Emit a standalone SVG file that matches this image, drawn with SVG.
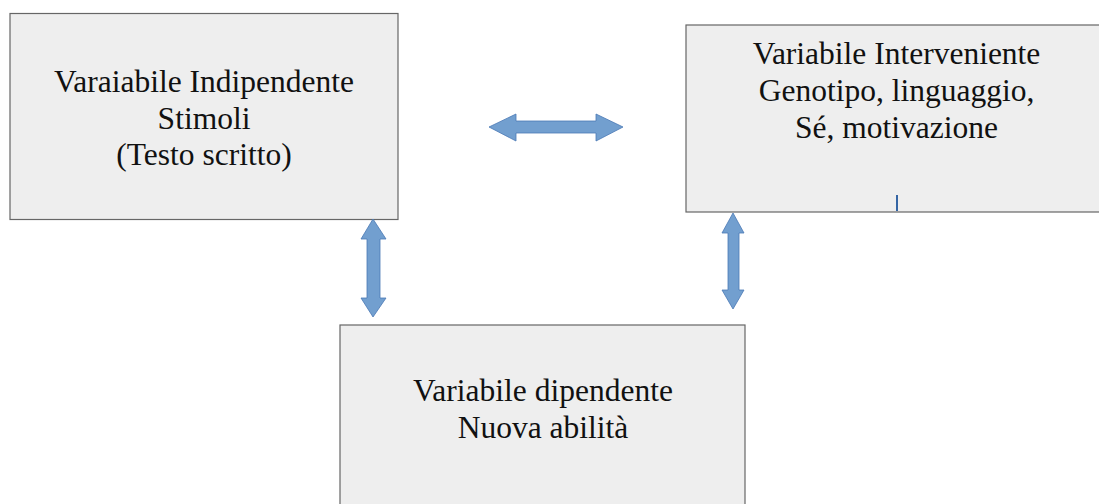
<svg xmlns="http://www.w3.org/2000/svg" width="1099" height="504" viewBox="0 0 1099 504">
<style>
.box{fill:#eeeeee;stroke:#666666;stroke-width:1.2}
.t{font-family:"Liberation Serif","Times New Roman",serif;font-size:31.5px;fill:#111111;text-anchor:middle}
.arr{fill:#729fcf;stroke:#4a78b5;stroke-width:0.8}
</style>
<rect width="1099" height="504" fill="#ffffff"/>
<g id="node-independent">
<rect class="box" x="10" y="13.5" width="388" height="206"/>
<text class="t" x="204" y="92">Varaiabile Indipendente</text>
<text class="t" x="204" y="128.5">Stimoli</text>
<text class="t" x="204" y="165">(Testo scritto)</text>
</g>
<g id="node-intervening">
<rect class="box" x="686" y="25" width="421" height="187"/>
<text class="t" x="896.5" y="64">Variabile Interveniente</text>
<text class="t" x="896.5" y="101">Genotipo, linguaggio,</text>
<text class="t" x="896.5" y="138">Sé, motivazione</text>
<line x1="897" y1="195" x2="897" y2="211" stroke="#3465a4" stroke-width="2"/>
</g>
<g id="node-dependent">
<rect class="box" x="340" y="325" width="405" height="190"/>
<text class="t" x="543" y="401">Variabile dipendente</text>
<text class="t" x="543" y="438">Nuova abilità</text>
</g>
<g id="connectors">
<polygon class="arr" points="489,127 516,114 516,121 596,121 596,114 623,127 596,141 596,133 516,133 516,141"/>
<polygon class="arr" points="373,219 386,239 380,239 380,298 386,298 373,317 361,298 367,298 367,239 361,239"/>
<polygon class="arr" points="733,213 744,233 739,233 739,290 744,290 733,309 722,290 728,290 728,233 722,233"/>
</g>
</svg>
